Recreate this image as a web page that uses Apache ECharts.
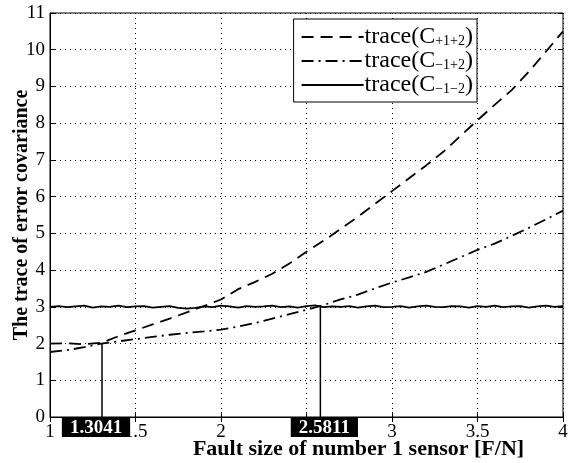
<!DOCTYPE html>
<html>
<head>
<meta charset="utf-8">
<script src="https://cdn.jsdelivr.net/npm/echarts@6/dist/echarts.min.js"></script>
<style>
  html, body { margin: 0; padding: 0; background: #fff; }
  #chart { width: 576px; height: 463px; }
</style>
</head>
<body>
<div id="chart"></div>
<script>
// fault size on the x axis, step 0.1
var faultX = [1.0, 1.1, 1.2, 1.3, 1.4, 1.5, 1.6, 1.7, 1.8, 1.9, 2.0, 2.1, 2.2, 2.3, 2.4, 2.5,
  2.6, 2.7, 2.8, 2.9, 3.0, 3.1, 3.2, 3.3, 3.4, 3.5, 3.6, 3.7, 3.8, 3.9, 4.0]
// trace(C+1+2), dashed
var tracePlus = [2.00, 2.01, 1.98, 2.02, 2.20, 2.36, 2.52, 2.68, 2.85, 3.02, 3.20, 3.48, 3.68, 3.90, 4.18, 4.50,
  4.80, 5.12, 5.45, 5.80, 6.15, 6.50, 6.85, 7.22, 7.65, 8.08, 8.50, 8.90, 9.40, 9.95, 10.50]
// trace(C-1+2), dash-dot
var traceMinusPlus = [1.77, 1.82, 1.90, 2.00, 2.06, 2.12, 2.18, 2.24, 2.29, 2.33, 2.38, 2.46, 2.56, 2.68, 2.80, 2.92,
  3.05, 3.20, 3.33, 3.50, 3.66, 3.80, 3.95, 4.15, 4.35, 4.55, 4.72, 4.93, 5.15, 5.38, 5.62]
// trace(C-1-2), solid, step 0.05
var solidX = [1.00, 1.05, 1.10, 1.15, 1.20, 1.25, 1.30, 1.35, 1.40, 1.45, 1.50, 1.55, 1.60, 1.65, 1.70, 1.75,
  1.80, 1.85, 1.90, 1.95, 2.00, 2.05, 2.10, 2.15, 2.20, 2.25, 2.30, 2.35, 2.40, 2.45, 2.50, 2.55,
  2.60, 2.65, 2.70, 2.75, 2.80, 2.85, 2.90, 2.95, 3.00, 3.05, 3.10, 3.15, 3.20, 3.25, 3.30, 3.35,
  3.40, 3.45, 3.50, 3.55, 3.60, 3.65, 3.70, 3.75, 3.80, 3.85, 3.90, 3.95, 4.00]
var traceMinusMinus = [3.00, 3.02, 2.99, 3.01, 3.03, 2.98, 3.01, 3.00, 3.03, 2.99, 3.01, 3.02, 2.98, 3.00, 3.02, 2.97,
  2.95, 2.97, 3.01, 2.99, 3.03, 3.01, 2.98, 3.02, 3.00, 3.01, 3.03, 2.99, 3.01, 2.98, 3.02, 3.04,
  2.99, 3.01, 3.00, 3.02, 2.98, 3.01, 3.03, 2.99, 3.00, 3.02, 2.98, 3.01, 3.03, 3.00, 2.99, 3.02,
  3.01, 2.98, 3.02, 3.00, 3.03, 2.99, 3.01, 3.02, 2.98, 3.01, 3.03, 3.00, 3.02]
// crossing points marked on the x axis
var crossX = [1.3041, 2.5811]
var crossY = [2.0, 3.0]
var xTicks = ['1', '1.5', '2', '2.5', '3', '3.5', '4']

var serif = '"Liberation Serif", "DejaVu Serif", serif'

function pairs(xs, ys) {
  return xs.map(function (x, i) { return [x, ys[i]] })
}

var chart = echarts.init(document.getElementById('chart'), null, { renderer: 'canvas' })

var subRich = {
  a: { fontFamily: serif, fontSize: 24, lineHeight: 22, color: '#000' },
  s: { fontFamily: serif, fontSize: 14, lineHeight: 14, color: '#000', padding: [9, 0, 0, 0] }
}
var subs = { 'C+1+2': '+1+2', 'C-1+2': '\u22121+2', 'C-1-2': '\u22121\u22122' }

// the two boxed labels sit a little off their marker lines
var boxShift = [[-6, 0], [4, 0]]

var option = {
  animation: false,
  backgroundColor: '#fff',
  grid: {
    left: 50, right: 13, top: 13, bottom: 46,
    outerBoundsMode: 'none', containLabel: false,
    show: true, borderColor: '#000', borderWidth: 1
  },
  legend: {
    right: 99,
    top: 19,
    orient: 'vertical',
    itemWidth: 62,
    itemHeight: 14,
    itemGap: 0,
    padding: [6, 4, 5, 7],
    backgroundColor: '#fff',
    borderColor: '#000',
    borderWidth: 1,
    borderRadius: 0,
    itemStyle: { opacity: 0 },
    data: ['C+1+2', 'C-1+2', 'C-1-2'],
    formatter: function (name) {
      return '{a|trace(C}{s|' + subs[name] + '}{a|)}'
    },
    textStyle: { rich: subRich, padding: [0, 0, 0, -4] }
  },
  xAxis: [{
    type: 'value',
    min: 1,
    max: 4,
    interval: 0.5,
    name: 'Fault size of number 1 sensor [F/N]',
    nameLocation: 'middle',
    nameGap: 21,
    nameMoveOverlap: false,
    nameTextStyle: { fontFamily: serif, fontSize: 22, fontWeight: 'bold', color: '#000', padding: [0, 0, 0, 104] },
    axisLine: { lineStyle: { color: '#000' } },
    axisTick: { inside: true, length: 5, lineStyle: { color: '#000' } },
    axisLabel: { fontFamily: serif, fontSize: 19, color: '#000', margin: 6,
      formatter: function (v) { return xTicks[Math.round((v - 1) * 2)] } },
    splitLine: { show: true, lineStyle: { color: '#000', type: [1, 4], width: 1 } }
  }, {
    type: 'value', min: 1, max: 4, interval: 0.5, position: 'top',
    axisLine: { show: false },
    axisTick: { inside: true, length: 5, lineStyle: { color: '#000' } },
    axisLabel: { show: false }, splitLine: { show: false }
  }],
  yAxis: [{
    type: 'value',
    min: 0,
    max: 11,
    interval: 1,
    name: 'The trace of error covariance',
    nameLocation: 'middle',
    nameGap: 18,
    nameMoveOverlap: false,
    nameTextStyle: { fontFamily: serif, fontSize: 20, fontWeight: 'bold', color: '#000' },
    axisLine: { show: true, lineStyle: { color: '#000' } },
    axisTick: { inside: true, length: 5, lineStyle: { color: '#000' } },
    axisLabel: { fontFamily: serif, fontSize: 19, color: '#000', margin: 5 },
    splitLine: { show: true, lineStyle: { color: '#000', type: [1, 4], width: 1 } }
  }, {
    type: 'value', min: 0, max: 11, interval: 1, position: 'right',
    axisLine: { show: false },
    axisTick: { show: true, inside: true, length: 5, lineStyle: { color: '#000' } },
    axisLabel: { show: false }, splitLine: { show: false }
  }],
  series: [
    {
      name: 'C+1+2', type: 'line', data: pairs(faultX, tracePlus),
      showSymbol: false, symbol: 'none',
      lineStyle: { color: '#000', width: 1.8, type: [12, 7] },
      itemStyle: { color: '#000' }
    },
    {
      name: 'C-1+2', type: 'line', data: pairs(faultX, traceMinusPlus),
      showSymbol: false, symbol: 'none',
      lineStyle: { color: '#000', width: 1.8, type: [12, 5, 2, 5] },
      itemStyle: { color: '#000' }
    },
    {
      name: 'C-1-2', type: 'line', data: pairs(solidX, traceMinusMinus),
      showSymbol: false, symbol: 'none',
      lineStyle: { color: '#000', width: 1.8 },
      itemStyle: { color: '#000' }
    },
    {
      type: 'line', data: [[crossX[0], 0], [crossX[0], crossY[0]]],
      symbol: 'none', lineStyle: { color: '#000', width: 1.5 }
    },
    {
      type: 'line', data: [[crossX[1], 0], [crossX[1], crossY[1]]],
      symbol: 'none', lineStyle: { color: '#000', width: 1.5 }
    },
    {
      type: 'scatter',
      data: crossX.map(function (x, i) {
        return { value: [x, 0], label: { offset: boxShift[i] } }
      }),
      symbolSize: 0, clip: false, z: 10,
      itemStyle: { color: '#000', opacity: 1 },
      label: {
        show: true, position: 'bottom', distance: 1,
        formatter: function (p) { return p.value[0].toFixed(4) },
        fontFamily: serif, fontSize: 19, fontWeight: 'bold', color: '#fff', lineHeight: 17,
        backgroundColor: '#000', opacity: 1, padding: [2, 8, 0, 8]
      }
    }
  ]
}

chart.setOption(option)
</script>
</body>
</html>
